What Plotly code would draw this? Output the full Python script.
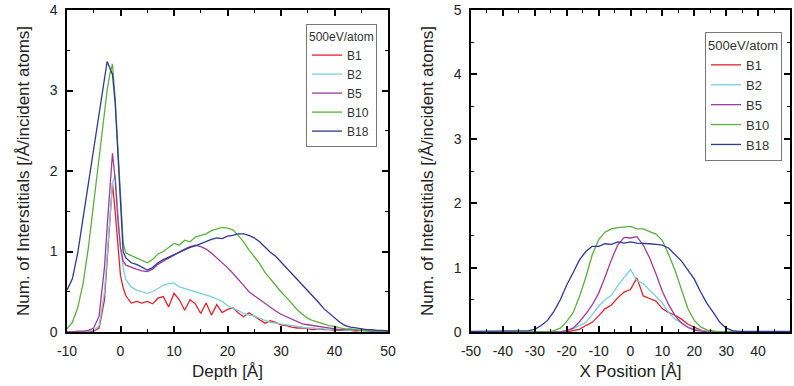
import plotly.graph_objects as go

series_names = ["B1", "B2", "B5", "B10", "B18"]
colors = ["#e4222c", "#78d0dc", "#a23a9c", "#5caf3c", "#2c3a92"]

depth = [-10, -9, -8, -7, -6, -5, -4, -3, -2.5, -2, -1.5, -1, -0.5, 0, 0.5, 1] + list(range(2, 51))

depth_B1 = [0, 0, 0, 0, 0, 0.01, 0.05, 0.4, 0.9, 1.4, 1.85, 1.5, 1.05, 0.7, 0.55, 0.45,
            0.36, 0.38, 0.36, 0.38, 0.35, 0.42, 0.44, 0.31, 0.48, 0.4, 0.27, 0.4, 0.35, 0.23, 0.36,
            0.21, 0.34, 0.24, 0.28, 0.3, 0.24, 0.19, 0.24, 0.2, 0.15, 0.11, 0.14, 0.12, 0.09, 0.08,
            0.06, 0.05, 0.05, 0.04, 0.03, 0.04, 0.03, 0.03, 0.02, 0.02, 0.02, 0.02, 0.01, 0.02,
            0.01, 0.01, 0.01, 0.01, 0.01]
depth_B2 = [0, 0, 0, 0, 0.01, 0.02, 0.08, 0.5, 0.95, 1.45, 1.85, 1.95, 1.5, 1.05, 0.8, 0.65,
            0.56, 0.52, 0.5, 0.48, 0.5, 0.54, 0.58, 0.6, 0.61, 0.56, 0.54, 0.52, 0.5, 0.48, 0.46,
            0.44, 0.41, 0.38, 0.33, 0.29, 0.27, 0.23, 0.21, 0.2, 0.17, 0.14, 0.12, 0.11, 0.1, 0.09,
            0.08, 0.07, 0.06, 0.05, 0.05, 0.04, 0.04, 0.03, 0.03, 0.03, 0.02, 0.02, 0.02, 0.02,
            0.01, 0.01, 0.01, 0.01, 0.01]
depth_B5 = [0, 0, 0.01, 0.01, 0.02, 0.05, 0.2, 0.8, 1.3, 1.8, 2.22, 1.9, 1.4, 1.05, 0.88, 0.83,
            0.8, 0.78, 0.76, 0.75, 0.78, 0.84, 0.88, 0.92, 0.96, 0.99, 1.03, 1.06, 1.08, 1.06, 1.03,
            0.98, 0.92, 0.87, 0.8, 0.73, 0.66, 0.58, 0.5, 0.45, 0.4, 0.35, 0.3, 0.26, 0.22, 0.19,
            0.15, 0.12, 0.1, 0.09, 0.08, 0.07, 0.06, 0.05, 0.04, 0.03, 0.03, 0.03, 0.02, 0.02,
            0.02, 0.01, 0.01, 0.01, 0.01]
depth_B10 = [0.04, 0.12, 0.3, 0.6, 1.05, 1.6, 2.2, 2.75, 3.0, 3.2, 3.33, 2.9, 2.3, 1.65, 1.1, 0.98,
             0.95, 0.93, 0.9, 0.86, 0.9, 0.97, 1.0, 1.05, 1.1, 1.08, 1.14, 1.12, 1.18, 1.2, 1.22,
             1.26, 1.28, 1.3, 1.29, 1.27, 1.2, 1.12, 1.02, 0.93, 0.85, 0.74, 0.66, 0.57, 0.5, 0.43,
             0.35, 0.28, 0.22, 0.17, 0.14, 0.12, 0.1, 0.08, 0.07, 0.05, 0.04, 0.04, 0.03, 0.02,
             0.02, 0.02, 0.01, 0.01, 0.01]
depth_B18 = [0.52, 0.66, 0.98, 1.41, 1.84, 2.27, 2.7, 3.13, 3.36, 3.28, 3.2, 2.85, 2.25, 1.6, 1.0, 0.92,
             0.86, 0.84, 0.8, 0.77, 0.8, 0.86, 0.9, 0.93, 0.96, 1.0, 1.02, 1.05, 1.07, 1.1, 1.12,
             1.15, 1.17, 1.16, 1.19, 1.2, 1.22, 1.22, 1.2, 1.17, 1.12, 1.05, 0.99, 0.94, 0.87, 0.8,
             0.72, 0.65, 0.58, 0.52, 0.44, 0.37, 0.29, 0.23, 0.17, 0.12, 0.08, 0.06, 0.05, 0.04,
             0.03, 0.03, 0.02, 0.02, 0.01]

xpos = list(range(-50, 51, 2))

x_B1 = [0] * 15 + [0, 0.02, 0.04, 0.1, 0.15, 0.25, 0.36, 0.42, 0.53, 0.62, 0.66, 0.84, 0.56,
                   0.52, 0.48, 0.36, 0.3, 0.26, 0.2, 0.12, 0.07, 0.03, 0.01] + [0] * 13
x_B2 = [0] * 14 + [0.01, 0.02, 0.05, 0.1, 0.15, 0.27, 0.4, 0.5, 0.57, 0.72, 0.85, 0.97, 0.8,
                   0.75, 0.65, 0.55, 0.45, 0.3, 0.2, 0.14, 0.08, 0.04, 0.02, 0.01] + [0] * 13
x_B5 = [0] * 14 + [0, 0.02, 0.06, 0.16, 0.28, 0.42, 0.6, 0.85, 1.12, 1.35, 1.47, 1.46, 1.48,
                   1.35, 1.15, 0.9, 0.63, 0.42, 0.25, 0.14, 0.07, 0.03, 0.01, 0] + [0] * 13
x_B10 = [0] * 12 + [0, 0.02, 0.06, 0.16, 0.3, 0.55, 0.85, 1.2, 1.43, 1.55, 1.6, 1.62, 1.63, 1.64,
                    1.6, 1.6, 1.56, 1.52, 1.42, 1.2, 0.95, 0.65, 0.36, 0.18, 0.08, 0.03, 0.01] + [0] * 12
x_B18 = [0.01] * 8 + [0.01, 0.02, 0.04, 0.1, 0.18, 0.32, 0.5, 0.73, 0.92, 1.12, 1.25, 1.33, 1.33,
                      1.37, 1.36, 1.4, 1.38, 1.4, 1.38, 1.38, 1.37, 1.36, 1.35, 1.3, 1.2, 1.1, 0.96,
                      0.82, 0.62, 0.44, 0.3, 0.15, 0.06, 0.02] + [0.01] * 9

depth_ticks = [-10, 0, 10, 20, 30, 40, 50]
depth_ticktext = ["-10", "0", "10", "20", "30", "40", "50"]
xpos_ticks = [-50, -40, -30, -20, -10, 0, 10, 20, 30, 40, 50]
xpos_ticktext = ["-50", "-40", "-30", "-20", "-10", "0", "10", "20", "30", "40", "50"]

depth_sets = [depth_B1, depth_B2, depth_B5, depth_B10, depth_B18]
x_sets = [x_B1, x_B2, x_B5, x_B10, x_B18]

FONT = "Arial, Liberation Sans, sans-serif"
fig = go.Figure()
for name, col, ys in zip(series_names, colors, depth_sets):
    fig.add_trace(go.Scatter(x=depth, y=ys, mode="lines", name=name,
                             line=dict(color=col, width=1.3), xaxis="x", yaxis="y",
                             legend="legend"))
for name, col, ys in zip(series_names, colors, x_sets):
    fig.add_trace(go.Scatter(x=xpos, y=ys, mode="lines", name=name,
                             line=dict(color=col, width=1.3), xaxis="x2", yaxis="y2",
                             legend="legend2"))

W, H = 794, 386
ytop, ybot = 10, 332
ydom = [(H - ybot) / H, (H - ytop) / H]

axis_common = dict(showline=True, linecolor="black", linewidth=1.5, mirror="allticks",
                   ticks="inside", ticklen=6, tickwidth=1.5, tickcolor="black",
                   showgrid=False, zeroline=False, ticklabelstandoff=5, automargin=False,
                   tickfont=dict(family=FONT, size=14, color="#222"),
                   title_font=dict(family=FONT, size=17, color="#222"))
minor = dict(ticks="inside", ticklen=3, tickwidth=1.2, tickcolor="black", showgrid=False)


def legend_cfg(x, y, size):
    return dict(x=x, y=y, bgcolor="white", bordercolor="#777", borderwidth=1,
                font=dict(family=FONT, size=size, color="#333"),
                title=dict(text="500eV/atom", font=dict(family=FONT, size=size, color="#333")),
                xanchor="right", yanchor="top", tracegroupgap=0, itemwidth=30)


fig.update_layout(
    width=W, height=H, margin=dict(l=0, r=0, t=0, b=0, autoexpand=False),
    paper_bgcolor="white", plot_bgcolor="white", showlegend=True,
    xaxis=dict(domain=[67 / W, 388 / W], range=[-10, 50], tickvals=depth_ticks,
               ticktext=depth_ticktext, minor=dict(dtick=5, tick0=0, **minor), anchor="y",
               title=dict(text="Depth [Å]", standoff=8), **axis_common),
    yaxis=dict(domain=ydom, range=[0, 4], dtick=1, minor=dict(dtick=0.5, **minor), anchor="x",
               title=dict(text="Num. of Interstitials [/Å/incident atoms]", standoff=16),
               **axis_common),
    xaxis2=dict(domain=[471 / W, 790 / W], range=[-50, 50], tickvals=xpos_ticks,
                ticktext=xpos_ticktext, minor=dict(dtick=5, tick0=0, **minor), anchor="y2",
                title=dict(text="X Position [Å]", standoff=8), **axis_common),
    yaxis2=dict(domain=ydom, range=[0, 5], dtick=1, minor=dict(dtick=0.5, **minor), anchor="x2",
                title=dict(text="Num. of Interstitials [/Å/incident atoms]", standoff=16),
                **axis_common),
    legend=legend_cfg(377 / W, (H - 24) / H, 12),
    legend2=legend_cfg(782 / W, (H - 32) / H, 13),
)

fig.write_html("out.html", config={"displayModeBar": False},
               post_script="document.body.style.margin='0px';")
